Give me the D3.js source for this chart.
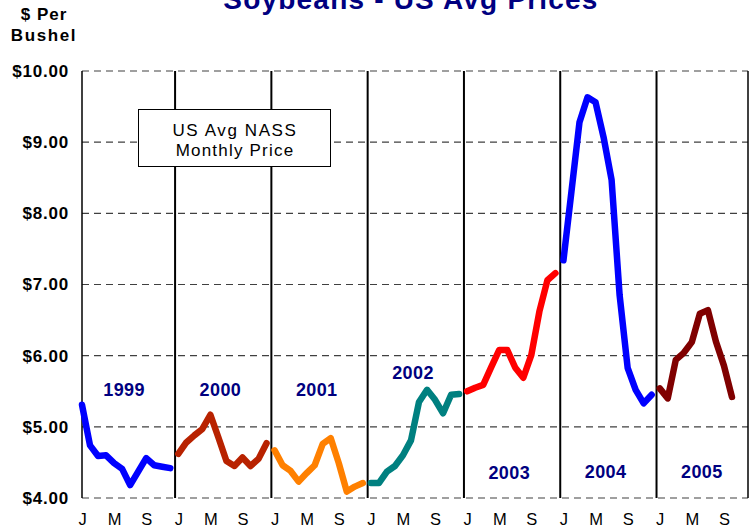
<!DOCTYPE html>
<html>
<head>
<meta charset="utf-8">
<script src="https://cdn.jsdelivr.net/npm/d3@7"></script>
<style>
  body { margin: 0; background: #fff; }
  svg text { font-family: "Liberation Sans", Arial, sans-serif; }
</style>
</head>
<body>
<svg id="chart" width="756" height="531"></svg>
<script>
// monthly prices, $ per bushel
const years = ['1999', '2000', '2001', '2002', '2003', '2004', '2005'];
const monthLetters = ['J', 'F', 'M', 'A', 'M', 'J', 'J', 'A', 'S', 'O', 'N', 'D'];
const prices1999 = [5.31, 4.74, 4.59, 4.60, 4.49, 4.41, 4.18, 4.37, 4.56, 4.46, 4.44, 4.42];
const prices2000 = [4.62, 4.78, 4.88, 4.97, 5.17, 4.85, 4.52, 4.45, 4.57, 4.45, 4.55, 4.77];
const prices2001 = [4.67, 4.46, 4.38, 4.23, 4.35, 4.46, 4.76, 4.84, 4.49, 4.09, 4.16, 4.21];
const prices2002 = [4.21, 4.21, 4.37, 4.45, 4.60, 4.81, 5.35, 5.52, 5.38, 5.19, 5.45, 5.46];
const prices2003 = [5.50, 5.55, 5.59, 5.84, 6.08, 6.08, 5.83, 5.69, 6.01, 6.62, 7.06, 7.16];
const prices2004 = [7.34, 8.31, 9.28, 9.63, 9.56, 9.07, 8.47, 6.85, 5.83, 5.52, 5.33, 5.45];
const prices2005 = [5.54, 5.40, 5.94, 6.04, 6.19, 6.59, 6.64, 6.20, 5.86, 5.42];
const yTicks = [4, 5, 6, 7, 8, 9, 10];

const series = [prices1999, prices2000, prices2001, prices2002, prices2003, prices2004, prices2005];
const colors = ['#0000ff', '#b82200', '#ff8000', '#008080', '#ff0000', '#0000ff', '#800000'];

const svg = d3.select('#chart');
const plotLeft = 82, plotRight = 748, plotTop = 71, plotBottom = 498;

const x = d3.scalePoint()
  .domain(d3.range(years.length * 12))
  .range([plotLeft, plotRight]);

const y = d3.scaleLinear()
  .domain([4, 10])
  .range([plotBottom, plotTop]);

// dashed gridlines
svg.append('g')
  .selectAll('line')
  .data(yTicks)
  .join('line')
  .attr('x1', plotLeft).attr('x2', plotRight)
  .attr('y1', d => y(d)).attr('y2', d => y(d))
  .attr('stroke', '#404040')
  .attr('stroke-width', 1.2)
  .attr('stroke-dasharray', '7,5');

// frame sides
svg.append('line').attr('x1', plotLeft).attr('x2', plotLeft).attr('y1', plotTop).attr('y2', plotBottom)
  .attr('stroke', '#000').attr('stroke-width', 1.5);
svg.append('line').attr('x1', plotRight).attr('x2', plotRight).attr('y1', plotTop).attr('y2', plotBottom)
  .attr('stroke', '#000').attr('stroke-width', 1.5);

// year separators
svg.append('g')
  .selectAll('line')
  .data(d3.range(1, years.length))
  .join('line')
  .attr('x1', k => x(k * 12) - x.step() * 0.4)
  .attr('x2', k => x(k * 12) - x.step() * 0.4)
  .attr('y1', plotTop).attr('y2', plotBottom)
  .attr('stroke', '#000')
  .attr('stroke-width', 2);

// y axis
const yAxis = svg.append('g')
  .attr('transform', `translate(${plotLeft},0)`)
  .call(d3.axisLeft(y).tickValues(yTicks).tickSize(0).tickPadding(13).tickFormat(d3.format('$.2f')));
yAxis.select('.domain').remove();
yAxis.selectAll('text')
  .attr('font-size', '17px')
  .attr('font-weight', 'bold')
  .attr('letter-spacing', '0.8px')
  .attr('fill', '#000');

// x axis, J M S for each year
const xAxis = svg.append('g')
  .attr('transform', `translate(0,${plotBottom})`)
  .call(d3.axisBottom(x)
    .tickValues(x.domain().filter(i => i % 12 % 4 === 0))
    .tickSize(0).tickPadding(15)
    .tickFormat(i => monthLetters[i % 12]));
xAxis.select('.domain').remove();
xAxis.selectAll('text')
  .attr('font-size', '16.5px')
  .attr('fill', '#000');

// price lines, one per year
const line = d3.line()
  .x(d => x(d.i))
  .y(d => y(d.v));

series.forEach((vals, k) => {
  svg.append('path')
    .datum(vals.map((v, m) => ({ i: k * 12 + m, v })))
    .attr('d', line)
    .attr('fill', 'none')
    .attr('stroke', colors[k])
    .attr('stroke-width', 6.5)
    .attr('stroke-linejoin', 'round')
    .attr('stroke-linecap', 'round');
});

// year labels
const labelLevel = [5.52, 5.52, 5.52, 5.76, 4.36, 4.37, 4.37];
svg.append('g')
  .selectAll('text')
  .data(years)
  .join('text')
  .attr('x', (d, k) => x(k * 12) + x.step() * 5.5 - 2)
  .attr('y', (d, k) => y(labelLevel[k]))
  .attr('dy', '0.35em')
  .attr('text-anchor', 'middle')
  .attr('font-size', '18px')
  .attr('font-weight', 'bold')
  .attr('letter-spacing', '0.4px')
  .attr('fill', '#000080')
  .text(d => d);

// legend box
svg.append('rect')
  .attr('x', 138.5).attr('y', 109.5)
  .attr('width', 192).attr('height', 57)
  .attr('fill', '#fff')
  .attr('stroke', '#000');
svg.append('text')
  .attr('x', 235).attr('y', 136)
  .attr('text-anchor', 'middle')
  .attr('font-size', '17px')
  .attr('letter-spacing', '1.6px')
  .text('US Avg NASS');
svg.append('text')
  .attr('x', 235).attr('y', 156)
  .attr('text-anchor', 'middle')
  .attr('font-size', '17px')
  .attr('letter-spacing', '1.2px')
  .text('Monthly Price');

// title and unit
svg.append('text')
  .attr('x', 411).attr('y', 9)
  .attr('text-anchor', 'middle')
  .attr('font-size', '28px')
  .attr('font-weight', 'bold')
  .attr('letter-spacing', '1.2px')
  .attr('fill', '#000080')
  .text('Soybeans - US Avg Prices');

svg.append('text')
  .attr('x', 44).attr('y', 20)
  .attr('text-anchor', 'middle')
  .attr('font-size', '17px')
  .attr('font-weight', 'bold')
  .attr('letter-spacing', '1px')
  .text('$ Per');
svg.append('text')
  .attr('x', 44).attr('y', 41)
  .attr('text-anchor', 'middle')
  .attr('font-size', '17px')
  .attr('font-weight', 'bold')
  .attr('letter-spacing', '1.6px')
  .text('Bushel');
</script>
</body>
</html>
